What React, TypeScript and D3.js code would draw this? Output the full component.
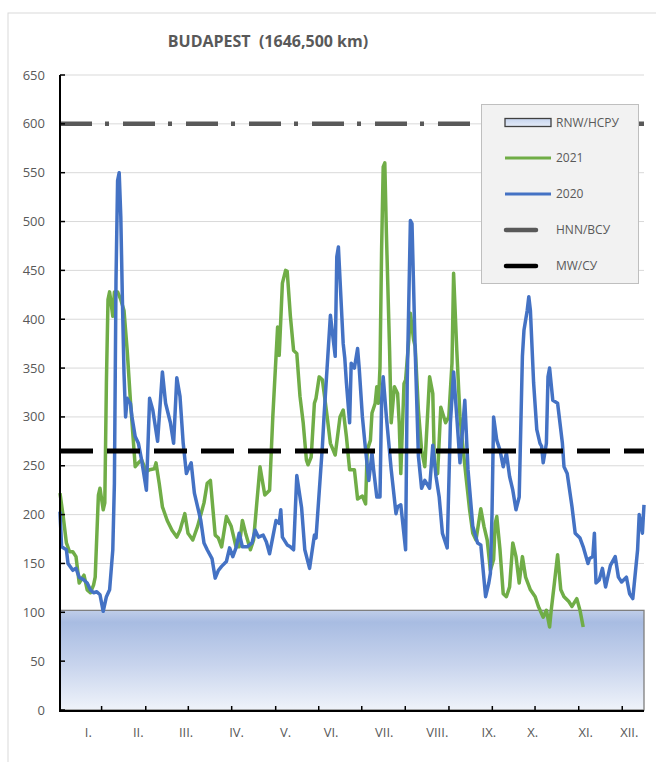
import React from "react";
import * as d3 from "d3";

const W = 656;
const H = 762;
const M = { left: 60, right: 644, top: 75, bottom: 710 };

const TITLE = "BUDAPEST  (1646,500 km)";
const yTicks = [0, 50, 100, 150, 200, 250, 300, 350, 400, 450, 500, 550, 600, 650];
const monthLabels = ["I.", "II.", "III.", "IV.", "V.", "VI.", "VII.", "VIII.", "IX.", "X.", "XI.", "XII."];
const monthLabelDays = [17.7, 48.9, 78.8, 110.4, 141, 169.4, 202.7, 235.8, 268, 295.4, 328.6, 355.8];
const tickDays = [26, 53.6, 80.2, 107.3, 134.8, 161.7, 188.6, 215.8, 243.1, 270.2, 296.9, 324.2, 351.4];

const RNW = 102;
const HNN = 600;
const MW = 265;

// 2020
const days2020 = [0, 1, 4, 5, 8, 10, 12, 15, 17, 19, 21, 23, 25, 27, 29, 31, 33, 34, 35, 36, 37, 38, 39, 40, 41, 42, 43, 44, 45, 47, 49, 51, 54, 56, 58, 61, 64, 66, 69, 71, 73, 75, 77, 79, 80, 82, 84, 88, 90, 92, 95, 97, 99, 101, 104, 106, 108, 110, 112, 114, 117, 120, 122, 124, 127, 129, 131, 133, 135, 137, 138, 139, 142, 144, 146, 148, 151, 153, 156, 159, 160, 164, 165, 169, 172, 173, 174, 177, 178, 179, 181, 182, 184, 186, 187, 189, 191, 193, 195, 196, 198, 200, 201, 202, 204, 207, 210, 211, 213, 216, 217, 219, 220, 222, 224, 226, 228, 231, 233, 235, 237, 239, 242, 244, 246, 248, 250, 253, 255, 258, 261, 263, 266, 268, 269, 270, 271, 273, 275, 277, 279, 281, 283, 285, 287, 289, 290, 292, 293, 294, 296, 298, 300, 301, 302, 304, 305, 306, 308, 311, 314, 315, 317, 320, 322, 325, 327, 330, 331, 333, 334, 335, 337, 339, 341, 344, 347, 349, 351, 354, 356, 358, 361, 362, 364, 365];
const vals2020 = [203, 167, 164, 150, 143, 145, 136, 133, 130, 123, 120, 121, 118, 101, 116, 123, 164, 232, 440, 542, 550, 505, 420, 345, 300, 319, 316, 314, 300, 280, 273, 256, 225, 319, 307, 275, 346, 314, 294, 273, 340, 321, 273, 242, 246, 253, 222, 194, 171, 164, 155, 135, 143, 147, 152, 166, 157, 166, 181, 167, 167, 171, 184, 177, 179, 172, 160, 177, 194, 191, 205, 177, 169, 167, 164, 240, 207, 164, 145, 179, 176, 270, 300, 404, 362, 464, 474, 375, 360, 335, 294, 355, 350, 370, 350, 300, 266, 235, 263, 246, 218, 218, 317, 341, 300, 246, 201, 208, 210, 164, 335, 501, 498, 368, 260, 227, 235, 227, 271, 239, 218, 181, 166, 294, 346, 300, 253, 317, 246, 188, 171, 169, 116, 130, 140, 200, 300, 276, 266, 249, 263, 239, 225, 205, 218, 362, 389, 409, 423, 409, 335, 287, 273, 270, 253, 273, 341, 350, 317, 314, 273, 249, 242, 208, 181, 176, 167, 150, 155, 157, 181, 130, 133, 145, 126, 148, 157, 136, 131, 136, 119, 114, 164, 200, 181, 210];

// 2021
const days2021 = [0, 2, 4, 6, 8, 10, 12, 15, 17, 19, 21, 22, 24, 25, 27, 28, 29, 30, 31, 33, 34, 36, 38, 40, 42, 44, 47, 49, 51, 54, 56, 59, 60, 62, 64, 67, 70, 73, 75, 78, 80, 83, 86, 90, 92, 94, 97, 99, 101, 104, 107, 110, 112, 114, 116, 119, 121, 123, 125, 128, 131, 133, 136, 137, 139, 141, 142, 144, 146, 148, 150, 152, 154, 155, 157, 159, 160, 162, 164, 167, 169, 172, 175, 177, 179, 181, 184, 186, 189, 191, 192, 194, 195, 197, 198, 199, 200, 201, 202, 203, 204, 206, 207, 209, 211, 212, 213, 215, 216, 218, 219, 221, 222, 224, 226, 228, 231, 233, 234, 236, 238, 241, 243, 245, 246, 248, 250, 252, 254, 256, 258, 260, 263, 265, 267, 269, 271, 272, 273, 275, 277, 279, 281, 283, 285, 287, 289, 291, 294, 297, 299, 302, 304, 306, 307, 309, 311, 313, 315, 318, 320, 323, 325, 327];
const vals2021 = [222, 198, 171, 162, 162, 157, 130, 138, 123, 120, 128, 136, 220, 227, 205, 212, 335, 420, 428, 403, 428, 428, 420, 409, 368, 317, 249, 253, 256, 244, 246, 247, 253, 232, 208, 194, 184, 177, 184, 201, 181, 174, 188, 212, 232, 235, 179, 176, 167, 198, 188, 167, 167, 194, 181, 164, 174, 212, 249, 220, 225, 300, 392, 363, 437, 450, 449, 403, 368, 365, 321, 294, 256, 251, 259, 314, 319, 341, 338, 300, 273, 261, 300, 307, 280, 246, 246, 216, 219, 211, 266, 276, 304, 314, 331, 314, 351, 471, 556, 560, 488, 368, 294, 331, 324, 294, 242, 334, 338, 379, 406, 379, 372, 307, 266, 249, 341, 324, 252, 242, 310, 294, 300, 355, 447, 368, 300, 266, 235, 205, 181, 174, 206, 188, 174, 143, 154, 191, 198, 164, 119, 116, 126, 171, 157, 130, 157, 136, 123, 116, 106, 95, 102, 85, 102, 130, 159, 123, 116, 111, 106, 114, 102, 85];

const FONT = "'Open Sans', 'Noto Sans', sans-serif";
const TEXT = "#595959";

export default function App() {
  const x = d3.scaleLinear().domain([0, 365]).range([M.left, M.right]);
  const y = d3.scaleLinear().domain([0, 650]).range([M.bottom, M.top]);

  const line = d3
    .line<[number, number]>()
    .x((d) => x(d[0]))
    .y((d) => y(d[1]));

  const s2020 = days2020.map((d, i) => [d, vals2020[i]] as [number, number]);
  const s2021 = days2021.map((d, i) => [d, vals2021[i]] as [number, number]);

  const lx0 = 505;
  const lx1 = 551;

  return (
    <svg
      width={W}
      height={H}
      style={{ position: "absolute", left: 0, top: 0, background: "#fff", fontFamily: FONT }}
    >
      <defs>
        <linearGradient id="rnwGrad" x1="0" y1="0" x2="0" y2="1">
          <stop offset="0%" stopColor="#c0cee9" />
          <stop offset="12%" stopColor="#a8bce2" />
          <stop offset="55%" stopColor="#c8d4ed" />
          <stop offset="100%" stopColor="#eff3fa" />
        </linearGradient>
        <linearGradient id="rnwLeg" x1="0" y1="0" x2="0" y2="1">
          <stop offset="0%" stopColor="#c6d4ee" />
          <stop offset="100%" stopColor="#e4ebf7" />
        </linearGradient>
      </defs>

      {/* chart frame */}
      <rect x={8} y={13} width={W} height={H} fill="#fff" stroke="#d9d9d9" strokeWidth={1} />

      <text x={268} y={47} textAnchor="middle" fontSize={16} fontWeight="bold" fill={TEXT} style={{ whiteSpace: "pre" }}>
        {TITLE}
      </text>

      {/* gridlines */}
      {yTicks.map((t) => (
        <line key={t} x1={M.left} x2={M.right} y1={y(t)} y2={y(t)} stroke="#d9d9d9" strokeWidth={1} />
      ))}

      {/* RNW band */}
      <rect
        x={M.left}
        y={y(RNW)}
        width={M.right - M.left}
        height={y(0) - y(RNW)}
        fill="url(#rnwGrad)"
        stroke="#7f7f7f"
        strokeWidth={1.3}
      />

      <path d={line(s2021) || ""} fill="none" stroke="#70ad47" strokeWidth={3.5} strokeLinejoin="round" />
      <path d={line(s2020) || ""} fill="none" stroke="#4472c4" strokeWidth={3.5} strokeLinejoin="round" />

      <line x1={M.left} x2={M.right} y1={y(HNN)} y2={y(HNN)} stroke="#595959" strokeWidth={4.5} strokeDasharray="32 13 4 14" />
      <line x1={M.left} x2={M.right} y1={y(MW)} y2={y(MW)} stroke="#000" strokeWidth={5} strokeDasharray="33 14" />

      {/* axes */}
      <line x1={M.left} x2={M.left} y1={M.top} y2={M.bottom + 1} stroke="#000" strokeWidth={2} />
      <line x1={M.left - 1} x2={M.right} y1={M.bottom + 1} y2={M.bottom + 1} stroke="#000" strokeWidth={2} />
      {yTicks.map((t) => (
        <g key={"yt" + t}>
          <line x1={M.left} x2={M.left + 5} y1={y(t)} y2={y(t)} stroke="#000" strokeWidth={1.5} />
          <text x={45} y={y(t)} dy="0.35em" textAnchor="end" fontSize={13} fill={TEXT}>
            {t}
          </text>
        </g>
      ))}
      {tickDays.map((d) => (
        <line key={"xt" + d} x1={x(d)} x2={x(d)} y1={M.bottom + 1} y2={M.bottom - 4} stroke="#000" strokeWidth={1.5} />
      ))}
      {monthLabels.map((m, i) => (
        <text key={m} x={x(monthLabelDays[i])} y={732} dy="0.35em" textAnchor="middle" fontSize={13} fill={TEXT}>
          {m}
        </text>
      ))}

      {/* legend */}
      <rect x={481.5} y={104.5} width={157} height={179} fill="#f2f2f2" stroke="#bfbfbf" strokeWidth={1} />
      <rect x={lx0} y={118.5} width={lx1 - lx0} height={8} fill="url(#rnwLeg)" stroke="#404040" strokeWidth={1.3} />
      <text x={556} y={122.5} dy="0.35em" fontSize={12} fill={TEXT}>RNW/НСРУ</text>
      <line x1={lx0} x2={lx1} y1={158} y2={158} stroke="#70ad47" strokeWidth={3} />
      <text x={556} y={158} dy="0.35em" fontSize={12} fill={TEXT}>2021</text>
      <line x1={lx0} x2={lx1} y1={194} y2={194} stroke="#4472c4" strokeWidth={3} />
      <text x={556} y={194} dy="0.35em" fontSize={12} fill={TEXT}>2020</text>
      <line x1={506} x2={536} y1={230} y2={230} stroke="#595959" strokeWidth={4.5} strokeLinecap="round" />
      <text x={556} y={230} dy="0.35em" fontSize={12} fill={TEXT}>HNN/ВСУ</text>
      <line x1={506} x2={536} y1={266} y2={266} stroke="#000" strokeWidth={4.5} strokeLinecap="round" />
      <text x={556} y={266} dy="0.35em" fontSize={12} fill={TEXT}>MW/СУ</text>
    </svg>
  );
}
